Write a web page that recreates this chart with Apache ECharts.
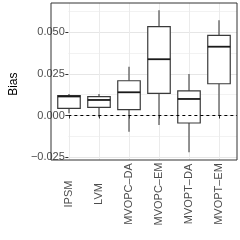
<!DOCTYPE html>
<html>
<head>
<meta charset="utf-8">
<script src="https://cdn.jsdelivr.net/npm/echarts@6/dist/echarts.min.js"></script>
<style>html,body{margin:0;padding:0;background:#fff}#c{width:240px;height:240px}</style>
</head>
<body>
<div id="c"></div>
<script>
const categories = ['IPSM', 'LVM', 'MVOPC\u2013DA', 'MVOPC\u2013EM', 'MVOPT\u2013DA', 'MVOPT\u2013EM'];
const whiskerLow  = [0.0013, -0.0011, -0.0097, -0.0057, -0.0220, -0.0003];
const q1Values    = [0.0043, 0.0049, 0.0035, 0.0133, -0.0045, 0.0190];
const medians     = [0.0114, 0.0093, 0.0139, 0.0337, 0.0099, 0.0412];
const q3Values    = [0.0119, 0.0113, 0.0208, 0.0532, 0.0147, 0.0480];
const whiskerHigh = [0.0129, 0.0129, 0.0292, 0.0630, 0.0248, 0.0570];
const yTicks = [-0.025, 0, 0.025, 0.05];
const refLine = 0;

const FONT = '"Liberation Sans", Arial, sans-serif';
const boxData = categories.map((c, i) => [i, whiskerLow[i], q1Values[i], medians[i], q3Values[i], whiskerHigh[i]]);

const chart = echarts.init(document.getElementById('c'), null, {renderer: 'canvas'});
chart.setOption({
  animation: false,
  backgroundColor: '#ffffff',
  grid: [
    {left: 51, top: 3, width: 186, height: 157, show: true, borderColor: '#333333', borderWidth: 1, backgroundColor: 'transparent', z: 5},
    {left: 51, top: 11.1, width: 186, height: 146.2, show: false},
    {left: 69, top: 3, width: 150, height: 157, show: false}
  ],
  xAxis: [
    {gridIndex: 0, type: 'value', min: 0, max: 1, show: false},
    {gridIndex: 1, type: 'value', min: 0, max: 1, show: false},
    {gridIndex: 2, type: 'category', data: categories, boundaryGap: false,
     axisLine: {show: false},
     axisTick: {show: true, length: 3, lineStyle: {color: '#333333', width: 1}},
     splitLine: {show: true, lineStyle: {color: '#ebebeb', width: 1}},
     axisLabel: {rotate: 90, align: 'center', verticalAlign: 'middle', margin: 34, color: '#4d4d4d', fontSize: 11, fontFamily: FONT, interval: 0}}
  ],
  yAxis: [
    {gridIndex: 0, type: 'value', min: 0, max: 1, show: false},
    {gridIndex: 1, type: 'value', position: 'left', min: -0.025, max: 0.0625, interval: 0.0125,
     axisLine: {show: false}, axisTick: {show: false}, axisLabel: {show: false},
     splitLine: {show: true, lineStyle: {color: ['#e6e6e6', '#f2f2f2'], width: 1}}},
    {gridIndex: 1, type: 'value', position: 'left', offset: 0, min: -0.025, max: 0.0625,
     name: 'Bias', nameLocation: 'middle', nameGap: 45,
     nameTextStyle: {color: '#000000', fontSize: 12, fontFamily: FONT},
     axisLine: {show: false},
     axisTick: {show: true, length: 3, customValues: yTicks, lineStyle: {color: '#333333', width: 1}},
     axisLabel: {show: true, customValues: yTicks, margin: 3.5, color: '#4d4d4d', fontSize: 11, fontFamily: FONT,
       formatter: v => (v < 0 ? '\u2212' : '') + Math.abs(v).toFixed(3)},
     splitLine: {show: false}},
    {gridIndex: 2, type: 'value', min: -0.02665, max: 0.06737, show: false}
  ],
  series: [
    {type: 'line', xAxisIndex: 1, yAxisIndex: 1, data: [], symbol: 'none', silent: true,
     markLine: {silent: true, symbol: ['none', 'none'], label: {show: false},
       lineStyle: {color: '#000000', type: [3, 3], width: 1},
       data: [{yAxis: refLine}]}},
    {type: 'custom', xAxisIndex: 2, yAxisIndex: 3, data: boxData, clip: false, z: 3,
     encode: {x: 0, y: [1, 2, 3, 4, 5]},
     renderItem: function (params, api) {
       const x = api.value(0);
       const lo = api.coord([x, api.value(1)]);
       const q1 = api.coord([x, api.value(2)]);
       const md = api.coord([x, api.value(3)]);
       const q3 = api.coord([x, api.value(4)]);
       const hi = api.coord([x, api.value(5)]);
       const bw = api.size([1, 0])[0] * 0.75;
       const cx = lo[0];
       const wStyle = {stroke: '#4d4d4d', lineWidth: 1.2};
       return {type: 'group', children: [
         {type: 'line', shape: {x1: cx, y1: q1[1], x2: cx, y2: lo[1]}, style: wStyle},
         {type: 'line', shape: {x1: cx, y1: q3[1], x2: cx, y2: hi[1]}, style: wStyle},
         {type: 'rect', shape: {x: cx - bw / 2, y: q3[1], width: bw, height: q1[1] - q3[1]},
          style: {fill: '#ffffff', stroke: '#3a3a3a', lineWidth: 1.2}},
         {type: 'line', shape: {x1: cx - bw / 2, y1: md[1], x2: cx + bw / 2, y2: md[1]},
          style: {stroke: '#1a1a1a', lineWidth: 1.8}}
       ]};
     }}
  ]
});
</script>
</body>
</html>
